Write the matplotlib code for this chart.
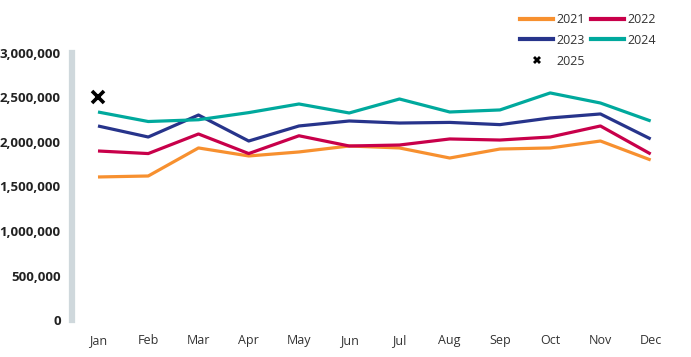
import matplotlib.pyplot as plt
from matplotlib.lines import Line2D
from matplotlib.ticker import FuncFormatter

plt.rcParams['font.family'] = ['Open Sans', 'DejaVu Sans']

months = ['Jan', 'Feb', 'Mar', 'Apr', 'May', 'Jun', 'Jul', 'Aug', 'Sep', 'Oct', 'Nov', 'Dec']

y2021 = [1607000, 1618000, 1933000, 1843000, 1888000, 1955000, 1933000, 1820000, 1921000, 1933000, 2011000, 1798000]
y2022 = [1899000, 1870000, 2090000, 1870000, 2070000, 1955000, 1966000, 2034000, 2022000, 2056000, 2180000, 1865000]
y2023 = [2180000, 2056000, 2303000, 2011000, 2180000, 2236000, 2213000, 2220000, 2195000, 2270000, 2315000, 2034000]
y2024 = [2337000, 2230000, 2250000, 2330000, 2427000, 2326000, 2483000, 2337000, 2360000, 2551000, 2438000, 2236000]
y2025 = [2506000]

colors = {'2021': '#F7902F', '2022': '#C8004A', '2023': '#27348B', '2024': '#00A99D'}

fig = plt.figure(figsize=(6.91, 3.57), dpi=100)
ax = fig.add_axes([0.104, 0.1036, 0.874, 0.748])

x = list(range(len(months)))
for name, vals in [('2021', y2021), ('2022', y2022), ('2023', y2023), ('2024', y2024)]:
    ax.plot(x, vals, color=colors[name], lw=2.3, label=name, solid_capstyle='butt')
ax.plot(x[:len(y2025)], y2025, ls='none', marker='x', color='black', ms=8,
        mew=2.6, label='2025')

ax.set_ylim(0, 3000000)
ax.set_xlim(-0.52, 11.5)
ax.set_yticks(range(0, 3000001, 500000))
ax.yaxis.set_major_formatter(FuncFormatter(lambda v, p: f'{int(v):,}'))
ax.set_xticks(x)
ax.set_xticklabels(months)

for s in ['top', 'right', 'bottom']:
    ax.spines[s].set_visible(False)
ax.spines['left'].set_color('#CFD8DC')
ax.spines['left'].set_linewidth(4.5)
ax.tick_params(axis='y', length=0, pad=8, labelsize=9.5, labelcolor='#222222')
ax.tick_params(axis='x', length=0, pad=10, labelsize=9, labelcolor='#333333')
for lab in ax.get_yticklabels():
    lab.set_fontweight('bold')

# legend proxies; matplotlib fills columns first
h = {n: Line2D([], [], color=c, lw=3) for n, c in colors.items()}
h['2025'] = Line2D([], [], ls='none', marker='X', color='black', ms=6, mew=0)
order = ['2021', '2023', '2025', '2022', '2024']
fig.legend([h[n] for n in order], order, loc='upper right', bbox_to_anchor=(0.965, 0.995),
           ncol=2, frameon=False, fontsize=9, handlelength=2.6, columnspacing=0.55,
           handletextpad=0.25, labelspacing=0.62, labelcolor='#333333')

fig.savefig('out.png', dpi=100)
